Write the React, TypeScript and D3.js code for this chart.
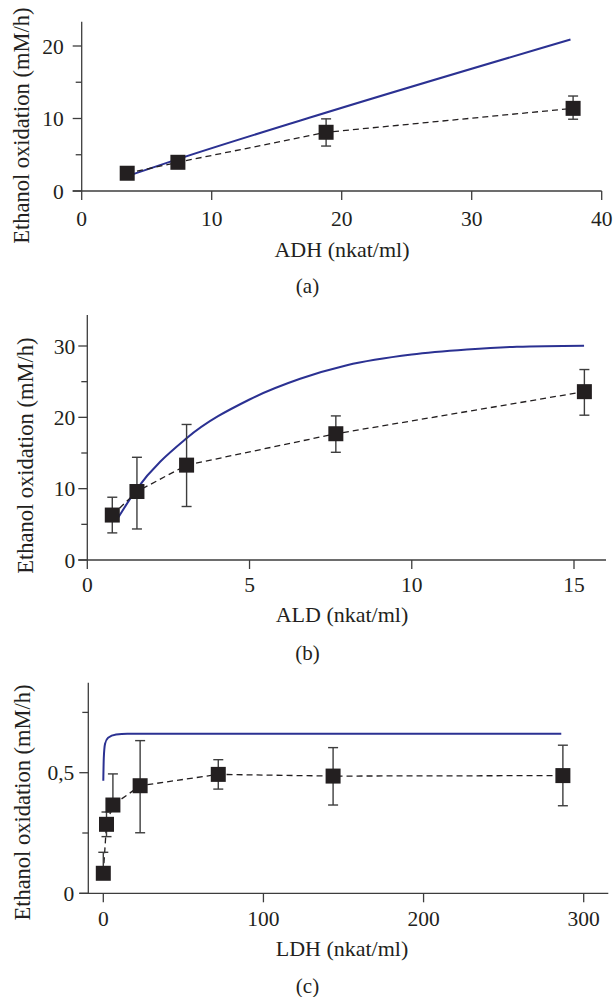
import React from "react";
import * as d3 from "d3";

// ---------- Data ----------
// Panel (a): ADH
const ADH_X = [3.5, 7.4, 18.8, 37.8];
const ADH_Y = [2.45, 3.96, 8.1, 11.4];
const ADH_LO = [2.45, 3.96, 6.2, 9.9];
const ADH_HI = [2.45, 3.96, 9.95, 13.1];
const ADH_MODEL_X = [3.9, 7.4, 17.5, 37.6];
const ADH_MODEL_Y = [2.3, 4.4, 10.1, 20.9];
const ADH_TICKS_X = [0, 10, 20, 30, 40];
const ADH_TICKS_Y = [0, 10, 20];
const ADH_MINOR_Y = [5, 15];

// Panel (b): ALD
const ALD_X = [0.77, 1.53, 3.06, 7.66, 15.32];
const ALD_Y = [6.3, 9.6, 13.3, 17.7, 23.6];
const ALD_LO = [3.8, 4.35, 7.5, 15.1, 20.3];
const ALD_HI = [8.8, 14.4, 19.0, 20.2, 26.7];
const ALD_MODEL_X = [0.92, 1.5, 3.06, 5, 6.56, 8, 10, 11.7, 13.24, 15.31];
const ALD_MODEL_Y = [5.7, 9.8, 17.07, 22.5, 25.4, 27.3, 28.8, 29.5, 29.9, 30.05];
const ALD_TICKS_X = [0, 5, 10, 15];
const ALD_TICKS_Y = [0, 10, 20, 30];
const ALD_MINOR_Y = [5, 15, 25];

// Panel (c): LDH
const LDH_X = [0, 2, 6, 23, 71.8, 143.5, 287];
const LDH_Y = [0.083, 0.286, 0.366, 0.446, 0.493, 0.486, 0.488];
const LDH_LO = [0.083, 0.235, 0.366, 0.251, 0.432, 0.366, 0.363];
const LDH_HI = [0.17, 0.337, 0.495, 0.633, 0.554, 0.604, 0.614];
const LDH_MODEL_X = [0, 0.3, 1.1, 3, 8, 15, 286];
const LDH_MODEL_Y = [0.467, 0.56, 0.62, 0.645, 0.658, 0.661, 0.662];
const LDH_TICKS_X = [0, 100, 200, 300];
const LDH_TICKS_Y = [0, 0.5];
const LDH_TICK_LABELS_Y = ["0", "0,5"];
const LDH_MINOR_Y = [0.25, 0.75];

const Y_TITLE = "Ethanol oxidation (mM/h)";

// ---------- Styles ----------
const FONT = "Liberation Serif, DejaVu Serif, serif";
const TEXT = "#231f20";
const AXIS = "#3d3d3d";
const BLUE = "#2b3192";

type PanelProps = {
  xs: number[]; ys: number[]; lo: number[]; hi: number[];
  mx: number[]; my: number[];
  ticksX: number[]; ticksY: number[]; minorY: number[];
  tickLabelsY?: string[];
  xDomain: [number, number]; xRange: [number, number];
  yDomain: [number, number]; yRange: [number, number];
  yAxisX: number;
  axisTopY: number; xAxisLeft: number; xAxisRight: number;
  yLabelGap: number;
  xTickBaseline: number;
  xTitle: string; xTitleY: number;
  yTitleX: number; yTitleCY: number;
  tag: string; tagY: number;
};

function Panel(p: PanelProps) {
  const x = d3.scaleLinear().domain(p.xDomain).range(p.xRange);
  const y = d3.scaleLinear().domain(p.yDomain).range(p.yRange);
  const x0 = p.yAxisX;
  const y0 = p.yRange[0];
  const model = d3
    .line<number>()
    .x((_, i) => x(p.mx[i]))
    .y((d) => y(d))
    .curve(d3.curveMonotoneX)(p.my) as string;
  const dashed = d3
    .line<number>()
    .x((_, i) => x(p.xs[i]))
    .y((d) => y(d))(p.ys) as string;
  const S = 15;
  const cap = 5;
  return (
    <g>
      {/* axes */}
      <line x1={x0} x2={x0} y1={p.axisTopY} y2={y0} stroke={AXIS} strokeWidth={1.3} />
      <line x1={p.xAxisLeft} x2={p.xAxisRight} y1={y0} y2={y0} stroke={AXIS} strokeWidth={1.3} />
      {p.ticksY.map((t, i) => (
        <g key={"ty" + i}>
          <line x1={x0 - 9} x2={x0} y1={y(t)} y2={y(t)} stroke={AXIS} strokeWidth={1.3} />
          <text x={x0 - 9 - p.yLabelGap} y={y(t)} dy="0.35em" textAnchor="end"
            fontFamily={FONT} fontSize={21.5} fill={TEXT}>
            {p.tickLabelsY ? p.tickLabelsY[i] : String(t)}
          </text>
        </g>
      ))}
      {p.minorY.map((t, i) => (
        <line key={"my" + i} x1={x0 - 6} x2={x0} y1={y(t)} y2={y(t)} stroke={AXIS} strokeWidth={1.3} />
      ))}
      {p.ticksX.map((t, i) => (
        <g key={"tx" + i}>
          <line x1={x(t)} x2={x(t)} y1={y0} y2={y0 + 9} stroke={AXIS} strokeWidth={1.3} />
          <text x={x(t)} y={p.xTickBaseline} textAnchor="middle"
            fontFamily={FONT} fontSize={21.5} fill={TEXT}>
            {String(t)}
          </text>
        </g>
      ))}
      {/* titles */}
      <text x={342} y={p.xTitleY} textAnchor="middle" fontFamily={FONT} fontSize={22} fill={TEXT}>
        {p.xTitle}
      </text>
      <text transform={`translate(${p.yTitleX},${p.yTitleCY}) rotate(-90)`} textAnchor="middle"
        dy="0.35em" fontFamily={FONT} fontSize={22.5} fill={TEXT}>
        {Y_TITLE}
      </text>
      <text x={307.5} y={p.tagY} textAnchor="middle" fontFamily={FONT} fontSize={21} fill={TEXT}>
        {p.tag}
      </text>
      {/* model curve */}
      <path d={model} fill="none" stroke={BLUE} strokeWidth={2} />
      {/* experimental dashed line */}
      <path d={dashed} fill="none" stroke={TEXT} strokeWidth={1.3} strokeDasharray="6,4" />
      {/* error bars */}
      {p.xs.map((xv, i) => {
        const cx = x(xv);
        const parts = [];
        if (p.hi[i] > p.ys[i]) {
          parts.push(
            <g key={"h" + i}>
              <line x1={cx} x2={cx} y1={y(p.ys[i])} y2={y(p.hi[i])} stroke={AXIS} strokeWidth={1.4} />
              <line x1={cx - cap} x2={cx + cap} y1={y(p.hi[i])} y2={y(p.hi[i])} stroke={AXIS} strokeWidth={1.4} />
            </g>
          );
        }
        if (p.lo[i] < p.ys[i]) {
          parts.push(
            <g key={"l" + i}>
              <line x1={cx} x2={cx} y1={y(p.ys[i])} y2={y(p.lo[i])} stroke={AXIS} strokeWidth={1.4} />
              <line x1={cx - cap} x2={cx + cap} y1={y(p.lo[i])} y2={y(p.lo[i])} stroke={AXIS} strokeWidth={1.4} />
            </g>
          );
        }
        return <g key={"e" + i}>{parts}</g>;
      })}
      {/* markers */}
      {p.xs.map((xv, i) => (
        <rect key={"m" + i} x={x(xv) - S / 2} y={y(p.ys[i]) - S / 2} width={S} height={S} fill={TEXT} />
      ))}
    </g>
  );
}

export default function App() {
  return (
    <svg width={614} height={997} viewBox="0 0 614 997"
      style={{ position: "absolute", left: 0, top: 0, background: "#fff" }}>
      <rect x={0} y={0} width={614} height={997} fill="#fff" />
      <Panel
        xs={ADH_X} ys={ADH_Y} lo={ADH_LO} hi={ADH_HI} mx={ADH_MODEL_X} my={ADH_MODEL_Y}
        ticksX={ADH_TICKS_X} ticksY={ADH_TICKS_Y} minorY={ADH_MINOR_Y}
        xDomain={[0, 40]} xRange={[81.7, 601.7]} yDomain={[0, 20]} yRange={[191, 46]}
        yAxisX={81.7}
        axisTopY={21.7} xAxisLeft={72.7} xAxisRight={601.7} yLabelGap={9}
        xTickBaseline={226} xTitle="ADH (nkat/ml)" xTitleY={257}
        yTitleX={21.5} yTitleCY={125.7} tag="(a)" tagY={293}
      />
      <Panel
        xs={ALD_X} ys={ALD_Y} lo={ALD_LO} hi={ALD_HI} mx={ALD_MODEL_X} my={ALD_MODEL_Y}
        ticksX={ALD_TICKS_X} ticksY={ALD_TICKS_Y} minorY={ALD_MINOR_Y}
        xDomain={[0, 15]} xRange={[87.3, 574]} yDomain={[0, 30]} yRange={[560, 346]}
        yAxisX={87.3}
        axisTopY={315} xAxisLeft={78.3} xAxisRight={606} yLabelGap={3}
        xTickBaseline={592} xTitle="ALD (nkat/ml)" xTitleY={622}
        yTitleX={25.5} yTitleCY={455.7} tag="(b)" tagY={660}
      />
      <Panel
        xs={LDH_X} ys={LDH_Y} lo={LDH_LO} hi={LDH_HI} mx={LDH_MODEL_X} my={LDH_MODEL_Y}
        ticksX={LDH_TICKS_X} ticksY={LDH_TICKS_Y} minorY={LDH_MINOR_Y} tickLabelsY={LDH_TICK_LABELS_Y}
        xDomain={[0, 300]} xRange={[103.3, 583.7]} yDomain={[0, 0.5]} yRange={[893.3, 772.7]}
        yAxisX={88.3}
        axisTopY={682.7} xAxisLeft={79.3} xAxisRight={608.3} yLabelGap={5}
        xTickBaseline={926} xTitle="LDH (nkat/ml)" xTitleY={956}
        yTitleX={22.5} yTitleCY={802.5} tag="(c)" tagY={993}
      />
    </svg>
  );
}
